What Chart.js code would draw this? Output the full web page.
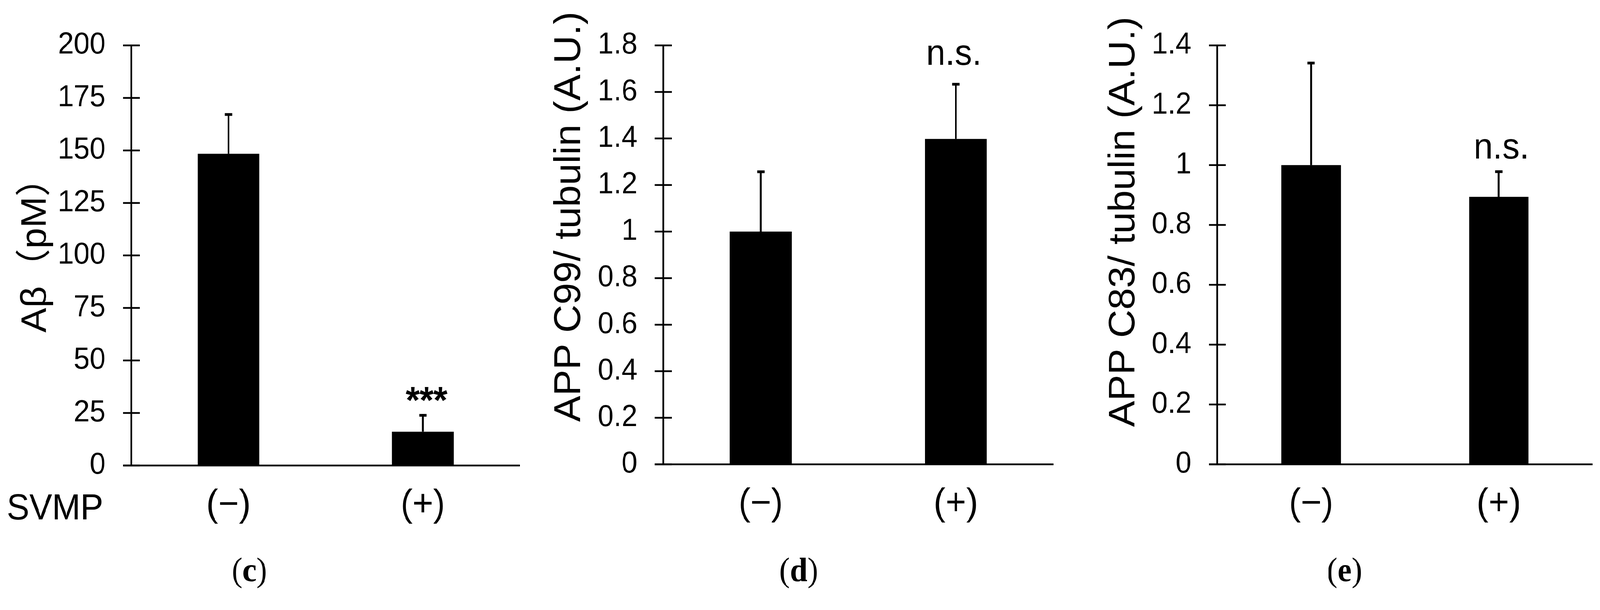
<!DOCTYPE html>
<html><head><meta charset="utf-8">
<script src="https://cdn.jsdelivr.net/npm/chart.js@4.4.0/dist/chart.umd.min.js"></script>
<style>
html,body{margin:0;padding:0;background:#fff;overflow:hidden;}
#wrap{position:absolute;left:0;top:0;width:4323px;height:1562px;background:#fff;transform-origin:0 0;}
canvas{position:absolute;top:0;}
</style></head><body>
<div id="wrap">
<canvas id="cv0" width="1441" height="1562" style="left:0px"></canvas>
<canvas id="cv1" width="1441" height="1562" style="left:1441px"></canvas>
<canvas id="cv2" width="1441" height="1562" style="left:2882px"></canvas>
</div>
<script>
// ---------- DATA ----------
const categories = ['(\u2212)', '(+)'];

// panel (c): Aβ (pM)
const abValues = [148.4, 16.1];
const abErrors = [18.7, 7.8];
const abTicks = [0, 25, 50, 75, 100, 125, 150, 175, 200];
const abTickLabels = ['0', '25', '50', '75', '100', '125', '150', '175', '200'];

// panel (d): APP C99 / tubulin
const c99Values = [1.00, 1.398];
const c99Errors = [0.257, 0.235];
const c99Ticks = [0, 0.2, 0.4, 0.6, 0.8, 1.0, 1.2, 1.4, 1.6, 1.8];
const c99TickLabels = ['0', '0.2', '0.4', '0.6', '0.8', '1', '1.2', '1.4', '1.6', '1.8'];

// panel (e): APP C83 / tubulin
const c83Values = [1.00, 0.894];
const c83Errors = [0.341, 0.084];
const c83Ticks = [0, 0.2, 0.4, 0.6, 0.8, 1.0, 1.2, 1.4];
const c83TickLabels = ['0', '0.2', '0.4', '0.6', '0.8', '1', '1.2', '1.4'];

const yTitles = ['A\u03B2\uFF08pM\uFF09', 'APP C99/ tubulin (A.U.)', 'APP C83/ tubulin (A.U.)'];
const panelLetters = ['c', 'd', 'e'];
const sigMarks = [['', '***'], ['', 'n.s.'], ['', 'n.s.']];
const rowLabel = 'SVMP';

// ---------- fit the 4323x1562 design into the actual viewport ----------
const PAGE_W = 4323, PAGE_H = 1562;
const sx = (window.innerWidth / PAGE_W) || 1;
const sy = (window.innerHeight / PAGE_H) || 1;
document.getElementById('wrap').style.transform = 'scale(' + sx + ',' + sy + ')';

// ---------- LAYOUT (canvas-local pixels) ----------
const W = 1441, H = 1562;
const panels = [
  { id: 'cv0', values: abValues, errors: abErrors, ticks: abTicks, tickLabels: abTickLabels,
    area: { left: 355, right: 1405, top: 72.5, bottom: 1192 },
    title: yTitles[0], titleFont: 96, titleX: 124, titleY: 852, titleAlign: 'left',
    sig: sigMarks[0], sigFont: 'bold 96px "Liberation Sans"', sigGap: 6, sigDx: 10,
    letter: panelLetters[0], letterX: 674, rowLabel: rowLabel },
  { id: 'cv1', values: c99Values, errors: c99Errors, ticks: c99Ticks, tickLabels: c99TickLabels,
    area: { left: 351, right: 1405, top: 61, bottom: 1189 },
    title: yTitles[1], titleFont: 100, titleX: 126, titleY: 555, titleAlign: 'center',
    sig: sigMarks[1], sigFont: '93px "Liberation Sans"', sigGap: 50, sigDx: -5,
    letter: panelLetters[1], letterX: 717, rowLabel: null },
  { id: 'cv2', values: c83Values, errors: c83Errors, ticks: c83Ticks, tickLabels: c83TickLabels,
    area: { left: 407, right: 1421, top: 53, bottom: 1189 },
    title: yTitles[2], titleFont: 100, titleX: 183, titleY: 568, titleAlign: 'center',
    sig: sigMarks[2], sigFont: '93px "Liberation Sans"', sigGap: 34, sigDx: 7,
    letter: panelLetters[2], letterX: 751, rowLabel: null }
];

const decor = {
  id: 'decor',
  afterDatasetsDraw(chart, args, o) {
    const ctx = chart.ctx, ca = chart.chartArea;
    const ys = chart.scales.y;
    const yBot = ys.getPixelForValue(0);
    const yTop = ys.getPixelForValue(ys.max);
    ctx.save();
    ctx.strokeStyle = '#000';
    ctx.fillStyle = '#000';
    ctx.lineCap = 'butt';
    // y axis line
    ctx.lineWidth = 4.5;
    ctx.beginPath(); ctx.moveTo(ca.left, yTop - 2.25); ctx.lineTo(ca.left, yBot); ctx.stroke();
    // crossing tick marks
    ys.ticks.forEach(t => {
      const py = ys.getPixelForValue(t.value);
      ctx.beginPath(); ctx.moveTo(ca.left - 23, py); ctx.lineTo(ca.left + 23, py); ctx.stroke();
    });
    // x axis line
    ctx.beginPath(); ctx.moveTo(ca.left - 23, yBot); ctx.lineTo(ca.right, yBot); ctx.stroke();
    // error bars + significance marks
    const meta = chart.getDatasetMeta(0);
    meta.data.forEach((bar, i) => {
      const pt = ys.getPixelForValue(o.values[i] + o.errors[i]);
      ctx.lineWidth = 5;
      ctx.beginPath(); ctx.moveTo(bar.x, bar.y); ctx.lineTo(bar.x, pt); ctx.stroke();
      ctx.lineWidth = 7;
      ctx.beginPath(); ctx.moveTo(bar.x - 10, pt); ctx.lineTo(bar.x + 10, pt); ctx.stroke();
      if (o.sig[i]) {
        ctx.font = o.sigFont;
        ctx.textAlign = 'center';
        ctx.textBaseline = 'alphabetic';
        ctx.fillText(o.sig[i], bar.x + o.sigDx, pt - o.sigGap);
      }
    });
    // y-axis title
    ctx.save();
    ctx.translate(o.titleX, o.titleY);
    ctx.rotate(-Math.PI / 2);
    ctx.font = o.titleFont + 'px "Liberation Sans", "Noto Sans CJK JP", sans-serif';
    ctx.textAlign = o.titleAlign;
    ctx.textBaseline = 'alphabetic';
    ctx.fillText(o.title, 0, 0);
    ctx.restore();
    // row label
    if (o.rowLabel) {
      ctx.font = '92px "Liberation Sans"';
      ctx.textAlign = 'left';
      ctx.textBaseline = 'alphabetic';
      ctx.fillText(o.rowLabel, 18, 1330);
    }
    // panel letter "(x)" with bold letter
    const normal = '86px "Liberation Serif"', bold = 'bold 86px "Liberation Serif"';
    ctx.textAlign = 'left';
    ctx.textBaseline = 'alphabetic';
    ctx.font = normal; const wp1 = ctx.measureText('(').width, wp2 = ctx.measureText(')').width;
    ctx.font = bold; const wl = ctx.measureText(o.letter).width;
    let x0 = o.letterX - (wp1 + wl + wp2) / 2;
    const by = 1488;
    ctx.font = normal; ctx.fillText('(', x0, by);
    ctx.font = bold; ctx.fillText(o.letter, x0 + wp1, by);
    ctx.font = normal; ctx.fillText(')', x0 + wp1 + wl, by);
    ctx.restore();
  }
};

panels.forEach(p => {
  const ctx = document.getElementById(p.id).getContext('2d');
  new Chart(ctx, {
    type: 'bar',
    data: {
      labels: categories,
      datasets: [{
        data: p.values,
        backgroundColor: '#000',
        borderWidth: 0,
        barPercentage: 0.317,
        categoryPercentage: 1.0
      }]
    },
    options: {
      responsive: false,
      maintainAspectRatio: false,
      devicePixelRatio: 1,
      animation: false,
      events: [],
      layout: { padding: { left: 0, top: p.area.top, right: W - p.area.right, bottom: 0 } },
      plugins: {
        legend: { display: false },
        tooltip: { enabled: false },
        decor: p
      },
      scales: {
        x: {
          grid: { display: false, drawTicks: false },
          border: { display: false },
          ticks: {
            color: '#000',
            font: { family: 'Liberation Sans', size: 96 },
            padding: 45,
            maxRotation: 0,
            autoSkip: false
          },
          afterFit: s => { s.height = H - p.area.bottom; }
        },
        y: {
          min: 0,
          max: p.ticks[p.ticks.length - 1],
          grid: { display: false, drawTicks: false },
          border: { display: false },
          afterBuildTicks: s => { s.ticks = p.ticks.map(v => ({ value: v })); },
          ticks: {
            color: '#000',
            font: { family: 'Liberation Sans', size: 77 },
            padding: 70,
            callback: (v, i) => p.tickLabels[i]
          },
          afterFit: s => { s.width = p.area.left; }
        }
      }
    },
    plugins: [decor]
  });
});
</script>
</body></html>
